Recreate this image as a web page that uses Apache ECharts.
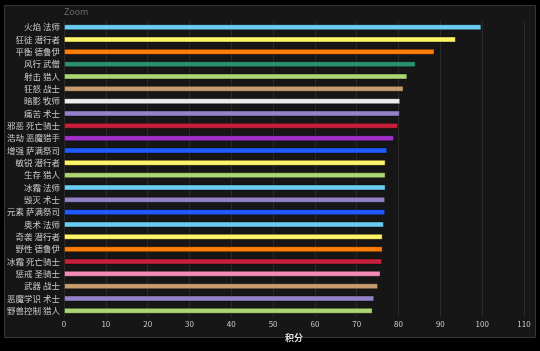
<!DOCTYPE html>
<html lang="zh">
<head>
  <meta charset="UTF-8">
  <title>积分</title>
  <style>
    html, body { margin: 0; padding: 0; background: #000; }
    #main { width: 540px; height: 351px; }
  </style>
</head>
<body>
  <div id="main"></div>
  <script src="https://cdn.jsdelivr.net/npm/echarts@6/dist/echarts.min.js"></script>
  <script>
    // 专精名称（从上到下）
    const specs = [
      '火焰 法师', '狂徒 潜行者', '平衡 德鲁伊', '风行 武僧', '射击 猎人', '狂怒 战士',
      '暗影 牧师', '痛苦 术士', '邪恶 死亡骑士', '浩劫 恶魔猎手', '增强 萨满祭司', '敏锐 潜行者',
      '生存 猎人', '冰霜 法师', '毁灭 术士', '元素 萨满祭司', '奥术 法师', '奇袭 潜行者',
      '野性 德鲁伊', '冰霜 死亡骑士', '惩戒 圣骑士', '武器 战士', '恶魔学识 术士', '野兽控制 猎人'
    ];
    // 积分
    const scores = [
      99.8, 93.7, 88.6, 84.1, 82.1, 81.2,
      80.4, 80.3, 79.9, 78.9, 77.3, 76.9,
      76.9, 76.9, 76.8, 76.8, 76.5, 76.2,
      76.2, 76.1, 75.7, 75.1, 74.2, 73.8
    ];
    // 职业颜色
    const barColors = [
      '#69CCF0', '#FFF569', '#FF7D0A', '#2A9070', '#ABD473', '#C79C6E',
      '#EEEEEE', '#9482C9', '#C41F3B', '#A330C9', '#1F5BFF', '#FFF569',
      '#ABD473', '#69CCF0', '#9482C9', '#1F5BFF', '#69CCF0', '#FFF569',
      '#FF7D0A', '#C41F3B', '#F58CBA', '#C79C6E', '#9482C9', '#ABD473'
    ];
    const xTicks = { min: 0, max: 110, interval: 10 };

    const chart = echarts.init(document.getElementById('main'));
    const option = {
      backgroundColor: '#000',
      textStyle: { fontFamily: 'Noto Sans CJK SC, sans-serif' },
      graphic: [{
        type: 'rect',
        z: -10,
        silent: true,
        shape: { x: 4.5, y: 5.5, width: 531, height: 332 },
        style: { fill: '#161616', stroke: '#363636', lineWidth: 1 }
      }],
      grid: { left: 64, right: 16, top: 21, bottom: 34 },
      xAxis: {
        type: 'value',
        min: xTicks.min,
        max: xTicks.max,
        interval: xTicks.interval,
        name: '积分',
        nameLocation: 'middle',
        nameGap: 13,
        nameTextStyle: { color: '#ddd', fontSize: 9, fontWeight: 'bold' },
        axisLine: { show: false },
        axisTick: { show: false },
        axisLabel: { color: '#ccc', fontSize: 8, margin: 3 },
        splitLine: { lineStyle: { color: '#2a2a2a', width: 1 } }
      },
      yAxis: {
        type: 'category',
        data: specs,
        inverse: true,
        name: 'Zoom',
        nameLocation: 'start',
        nameGap: 5,
        nameTextStyle: { color: '#6a6a6a', fontSize: 9, align: 'left' },
        axisLine: { show: false },
        axisTick: { show: false },
        axisLabel: { color: '#ccc', fontSize: 8.5, margin: 4 },
        splitLine: { show: false }
      },
      series: [{
        type: 'bar',
        data: scores.map((v, i) => ({ value: v, itemStyle: { color: barColors[i] } })),
        barWidth: 6,
        itemStyle: { borderColor: 'rgba(0,0,0,0.35)', borderWidth: 1 }
      }]
    };
    chart.setOption(option);
  </script>
</body>
</html>
